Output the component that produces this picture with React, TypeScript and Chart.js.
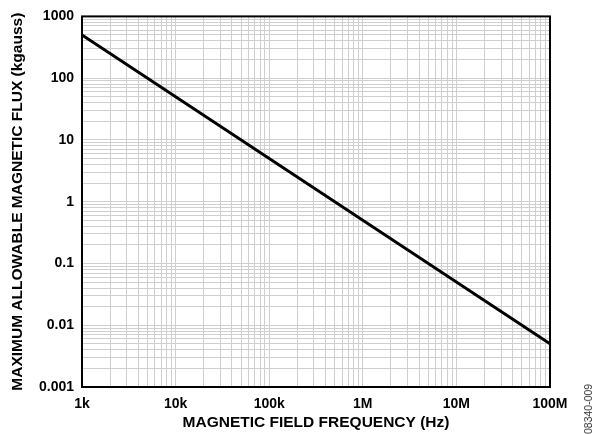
import React, { useEffect, useRef } from "react";
import { Chart, registerables } from "chart.js";

Chart.register(...registerables);

const frequencyHz = [1e3, 1e8];
const maxFluxKgauss = [500, 0.005];
const xTickValues = [1e3, 1e4, 1e5, 1e6, 1e7, 1e8];
const xTickLabels = ["1k", "10k", "100k", "1M", "10M", "100M"];
const yTickValues = [0.001, 0.01, 0.1, 1, 10, 100, 1000];
const yTickLabels = ["0.001", "0.01", "0.1", "1", "10", "100", "1000"];
const xTitle = "MAGNETIC FIELD FREQUENCY (Hz)";
const yTitle = "MAXIMUM ALLOWABLE MAGNETIC FLUX (kgauss)";
const figureCode = "08340-009";

function allLogTicks(min: number, max: number) {
  const out: { value: number }[] = [];
  let base = min;
  while (base < max * 0.999) {
    for (let m = 1; m < 10; m++) out.push({ value: base * m });
    base *= 10;
  }
  out.push({ value: max });
  return out;
}

function labelFor(values: number[], labels: string[], v: number) {
  const i = values.findIndex((t) => Math.abs(Math.log10(t) - Math.log10(v)) < 1e-6);
  return i >= 0 ? labels[i] : "";
}

const frame = {
  id: "frame",
  afterDraw(chart: any) {
    const { ctx, chartArea: a } = chart;
    ctx.save();
    ctx.strokeStyle = "#000";
    ctx.lineWidth = 2;
    ctx.strokeRect(a.left, a.top, a.right - a.left, a.bottom - a.top);
    ctx.restore();
  },
};

export default function App() {
  const ref = useRef<HTMLCanvasElement>(null);
  useEffect(() => {
    const family = "'Liberation Sans', Arial, sans-serif";
    const tickFont = { family, size: 14, weight: "bold" as const };
    const titleFont = { family, size: 15.5, weight: "bold" as const };
    const chart = new Chart(ref.current!, {
      type: "line",
      data: {
        datasets: [
          {
            data: frequencyHz.map((x, i) => ({ x, y: maxFluxKgauss[i] })),
            borderColor: "#000",
            borderWidth: 3,
            pointRadius: 0,
            fill: false,
            tension: 0,
          },
        ],
      },
      options: {
        animation: false,
        responsive: true,
        maintainAspectRatio: false,
        layout: { padding: { top: 14, right: 42, left: 0, bottom: 0 } },
        plugins: { legend: { display: false }, tooltip: { enabled: false } },
        scales: {
          x: {
            type: "logarithmic",
            min: 1e3,
            max: 1e8,
            afterBuildTicks: (s: any) => {
              s.ticks = allLogTicks(1e3, 1e8);
            },
            afterFit: (s: any) => {
              s.height = 47;
            },
            grid: { color: "#cfcfcf", lineWidth: 1, drawTicks: false },
            border: { display: false },
            ticks: {
              autoSkip: false,
              maxRotation: 0,
              padding: 9,
              color: "#000",
              font: tickFont,
              callback: (v: any) => labelFor(xTickValues, xTickLabels, Number(v)),
            },
            title: {
              display: true,
              text: xTitle,
              color: "#000",
              font: titleFont,
              padding: { top: 0, bottom: 2 },
            },
          },
          y: {
            type: "logarithmic",
            min: 0.001,
            max: 1000,
            afterBuildTicks: (s: any) => {
              s.ticks = allLogTicks(0.001, 1000);
            },
            afterFit: (s: any) => {
              s.width = 82;
            },
            grid: { color: "#cfcfcf", lineWidth: 1, drawTicks: false },
            border: { display: false },
            ticks: {
              autoSkip: false,
              padding: 8,
              color: "#000",
              font: tickFont,
              callback: (v: any) => labelFor(yTickValues, yTickLabels, Number(v)),
            },
            title: {
              display: true,
              text: yTitle,
              color: "#000",
              font: titleFont,
              padding: { top: 8, bottom: 0 },
            },
          },
        },
      },
      plugins: [frame],
    });
    return () => chart.destroy();
  }, []);
  return (
    <div style={{ position: "fixed", left: 0, top: 0, width: 592, height: 434, background: "#fff", overflow: "hidden" }}>
      <canvas ref={ref} />
      <span
        style={{
          position: "absolute",
          left: 588,
          top: 409,
          transform: "translate(-50%, -50%) rotate(-90deg)",
          fontFamily: "'Liberation Sans', Arial, sans-serif",
          fontSize: 10.5,
          color: "#333",
          whiteSpace: "nowrap",
        }}
      >
        {figureCode}
      </span>
    </div>
  );
}
